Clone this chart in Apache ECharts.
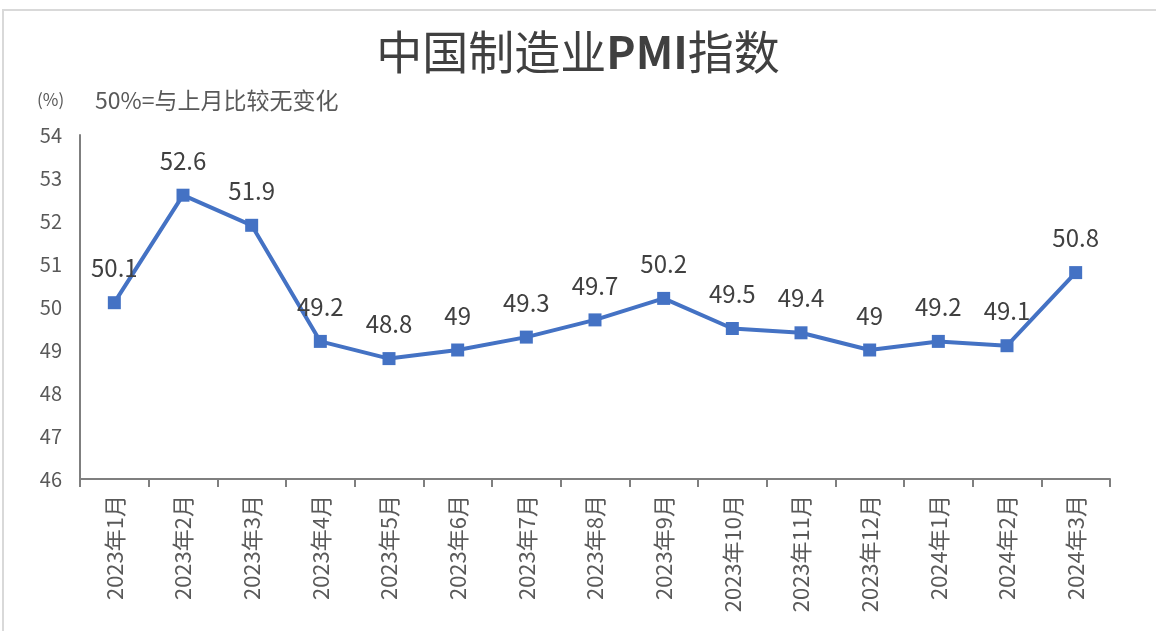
<!DOCTYPE html>
<html lang="zh">
<head>
  <meta charset="UTF-8" />
  <title>中国制造业PMI指数</title>
  <script src="https://cdn.jsdelivr.net/npm/echarts@6.0.0/dist/echarts.min.js"></script>
  <style>
    html, body { margin: 0; padding: 0; background: #fff; }
    #chart { width: 1156px; height: 631px; }
  </style>
</head>
<body>
  <div id="chart"></div>
  <script>
    var months = [
      "2023年1月", "2023年2月", "2023年3月", "2023年4月", "2023年5月",
      "2023年6月", "2023年7月", "2023年8月", "2023年9月", "2023年10月",
      "2023年11月", "2023年12月", "2024年1月", "2024年2月", "2024年3月"
    ];
    var pmi = [50.1, 52.6, 51.9, 49.2, 48.8, 49, 49.3, 49.7, 50.2, 49.5, 49.4, 49, 49.2, 49.1, 50.8];

    var chart = echarts.init(document.getElementById("chart"));
    var font = "'Noto Sans CJK SC', 'Noto Sans', sans-serif";

    chart.setOption({
      animation: false,
      textStyle: { fontFamily: font },
      title: {
        text: "{a|中国制造业}{b|PMI}{a|指数}",
        left: "center",
        top: 24,
        textStyle: {
          fontWeight: "normal",
          rich: {
            a: { fontSize: 46, color: "#404040", fontWeight: "normal", fontFamily: font },
            b: { fontSize: 44, color: "#404040", fontWeight: "bold", fontFamily: font }
          }
        }
      },
      graphic: [
        {
          type: "rect",
          shape: { x: 3, y: 10, width: 1160, height: 640 },
          style: { fill: "none", stroke: "#d9d9d9", lineWidth: 2 }
        },
        {
          type: "text",
          left: 37, top: 91,
          style: { text: "(%)", fontSize: 17, fill: "#595959", fontFamily: font }
        },
        {
          type: "text",
          left: 95, top: 89,
          style: { text: "50%=与上月比较无变化", fontSize: 23, fill: "#595959", fontFamily: font }
        }
      ],
      grid: { left: 80, right: 46, top: 135, bottom: 152 },
      xAxis: {
        type: "category",
        data: months,
        boundaryGap: true,
        axisLine: { lineStyle: { color: "#7f7f7f", width: 2 } },
        axisTick: { show: true, length: 8, lineStyle: { color: "#7f7f7f", width: 2 } },
        axisLabel: { rotate: 90, fontSize: 22, color: "#595959", margin: 16, interval: 0 }
      },
      yAxis: {
        type: "value",
        min: 46,
        max: 54,
        interval: 1,
        axisLine: { show: true, lineStyle: { color: "#7f7f7f", width: 2 } },
        axisTick: { show: false },
        splitLine: { show: false },
        axisLabel: { fontSize: 20, color: "#595959", margin: 18 }
      },
      series: [{
        type: "line",
        data: pmi,
        symbol: "rect",
        symbolSize: 13,
        lineStyle: { color: "#4472C4", width: 4 },
        itemStyle: { color: "#4472C4" },
        label: {
          show: true,
          position: "top",
          distance: 16,
          fontSize: 24,
          color: "#404040"
        }
      }]
    });
  </script>
</body>
</html>
